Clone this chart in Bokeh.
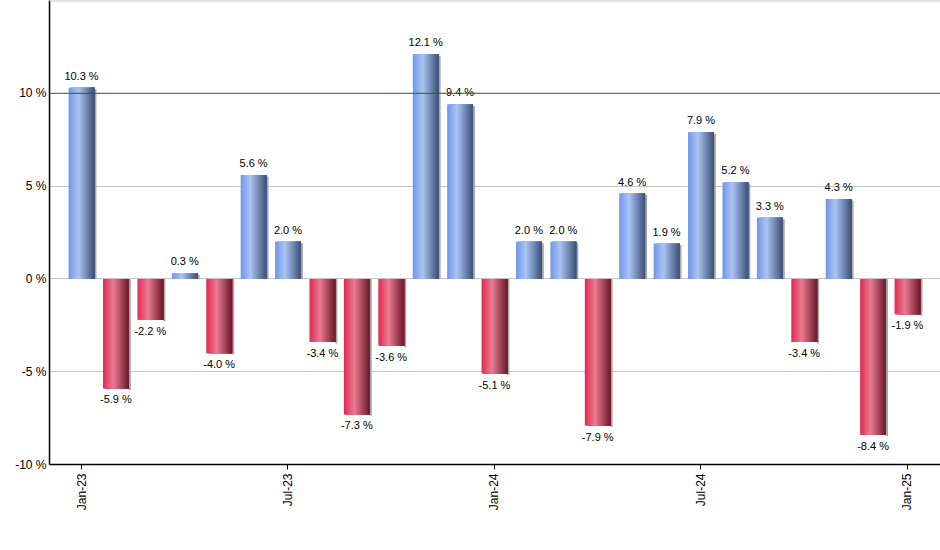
import math
from bokeh.plotting import figure
from bokeh.models import ColumnDataSource, FixedTicker, Span
from bokeh.core.properties import value
from bokeh.embed import file_html
from bokeh.resources import INLINE

months = ["Jan-23", "Feb-23", "Mar-23", "Apr-23", "May-23", "Jun-23", "Jul-23",
          "Aug-23", "Sep-23", "Oct-23", "Nov-23", "Dec-23", "Jan-24", "Feb-24",
          "Mar-24", "Apr-24", "May-24", "Jun-24", "Jul-24", "Aug-24", "Sep-24",
          "Oct-24", "Nov-24", "Dec-24", "Jan-25"]
returns = [10.3, -5.9, -2.2, 0.3, -4.0, 5.6, 2.0, -3.4, -7.3, -3.6, 12.1, 9.4,
           -5.1, 2.0, 2.0, -7.9, 4.6, 1.9, 7.9, 5.2, 3.3, -3.4, 4.3, -8.4, -1.9]
x_tick_pos = [0, 6, 12, 18, 24]
x_tick_labels = ["Jan-23", "Jul-23", "Jan-24", "Jul-24", "Jan-25"]
y_ticks = [-10, -5, 0, 5, 10]
y_tick_labels = ["-10 %", "-5 %", "0 %", "5 %", "10 %"]

FONT = "Liberation Sans"
BAR_W = 0.75
N_STRIPS = 26

pos_stops = [(0.0, (0x6e, 0x96, 0xea)), (0.38, (0xab, 0xc4, 0xf2)), (1.0, (0x3a, 0x50, 0x78))]
neg_stops = [(0.0, (0xe0, 0x2a, 0x50)), (0.40, (0xea, 0x7c, 0x92)), (1.0, (0x6c, 0x18, 0x2a))]


def grad(stops, t):
    for (t0, c0), (t1, c1) in zip(stops[:-1], stops[1:]):
        if t0 <= t <= t1:
            f = (t - t0) / (t1 - t0) if t1 > t0 else 0
            c = [round(a + (b - a) * f) for a, b in zip(c0, c1)]
            return "#%02x%02x%02x" % tuple(c)
    return "#%02x%02x%02x" % stops[-1][1]


p = figure(width=940, height=550, output_backend="svg", toolbar_location=None,
           x_range=(-0.93, 24.96), y_range=(-10, 15),
           min_border_left=49, min_border_right=0, min_border_top=0, min_border_bottom=86)
p.background_fill_color = "white"
p.border_fill_color = "white"
p.outline_line_color = None

# grid
p.xgrid.grid_line_color = None
p.ygrid.ticker = FixedTicker(ticks=[-5, 0, 5])
p.ygrid.grid_line_color = "#c4c4c4"
p.ygrid.grid_line_width = 1
p.add_layout(Span(location=10, dimension="width", line_color="#1a6a1a", line_width=1))
p.add_layout(Span(location=15, dimension="width", line_color="#c8c8c8", line_width=2))

# shadows
sh = dict(left=[], right=[], top=[], bottom=[])
for i, v in enumerate(returns):
    sh["left"].append(i + BAR_W / 2)
    sh["right"].append(i + BAR_W / 2 + 0.06)
    sh["top"].append(max(v, 0) - (0.08 if v > 0 else 0))
    sh["bottom"].append(min(v, 0) - (0.08 if v < 0 else 0))
p.quad(source=ColumnDataSource(sh), left="left", right="right", top="top", bottom="bottom",
       fill_color="#a8a8a8", line_color=None)

# gradient bars built from overlapping strips
data = dict(left=[], right=[], top=[], bottom=[], color=[])
for i, v in enumerate(returns):
    stops = pos_stops if v >= 0 else neg_stops
    l0 = i - BAR_W / 2
    for k in range(N_STRIPS):
        t = (k + 0.5) / N_STRIPS
        data["left"].append(l0 + BAR_W * k / N_STRIPS)
        data["right"].append(i + BAR_W / 2)
        data["top"].append(max(v, 0))
        data["bottom"].append(min(v, 0))
        data["color"].append(grad(stops, t))
p.quad(source=ColumnDataSource(data), left="left", right="right", top="top", bottom="bottom",
       fill_color="color", line_color=None)

# labels
pos_idx = [i for i, v in enumerate(returns) if v >= 0]
neg_idx = [i for i, v in enumerate(returns) if v < 0]
lab_pos = ColumnDataSource(dict(x=pos_idx, y=[returns[i] for i in pos_idx],
                                t=["%.1f %%" % returns[i] for i in pos_idx]))
lab_neg = ColumnDataSource(dict(x=neg_idx, y=[returns[i] for i in neg_idx],
                                t=["%.1f %%" % returns[i] for i in neg_idx]))
p.text(source=lab_pos, x="x", y="y", text="t", text_align="center", text_baseline="bottom",
       y_offset=-6, text_font=value(FONT), text_font_size="11px", text_color="black")
p.text(source=lab_neg, x="x", y="y", text="t", text_align="center", text_baseline="top",
       y_offset=5, text_font=value(FONT), text_font_size="11px", text_color="black")

# axes
p.xaxis.ticker = FixedTicker(ticks=x_tick_pos)
p.xaxis.major_label_overrides = {pos: lab for pos, lab in zip(x_tick_pos, x_tick_labels)}
p.xaxis.major_label_orientation = math.pi / 2
p.xaxis.minor_tick_line_color = None
p.xaxis.major_tick_out = 5
p.xaxis.major_tick_in = 0
p.xaxis.major_tick_line_color = "black"
p.xaxis.axis_line_color = "black"
p.xaxis.axis_line_width = 1.5
p.xaxis.major_label_standoff = 4
p.xaxis.major_label_text_font = FONT
p.xaxis.major_label_text_font_size = "12px"
p.xaxis.major_label_text_color = "black"

p.yaxis.ticker = FixedTicker(ticks=y_ticks)
p.yaxis.major_label_overrides = {t: lab for t, lab in zip(y_ticks, y_tick_labels)}
p.yaxis.minor_tick_line_color = None
p.yaxis.major_tick_out = 0
p.yaxis.major_tick_in = 0
p.yaxis.axis_line_color = "black"
p.yaxis.axis_line_width = 1.5
p.yaxis.major_label_standoff = 3
p.yaxis.major_label_text_font = FONT
p.yaxis.major_label_text_font_size = "12px"
p.yaxis.major_label_text_color = "black"

open("out.html", "w").write(file_html(p, INLINE))
